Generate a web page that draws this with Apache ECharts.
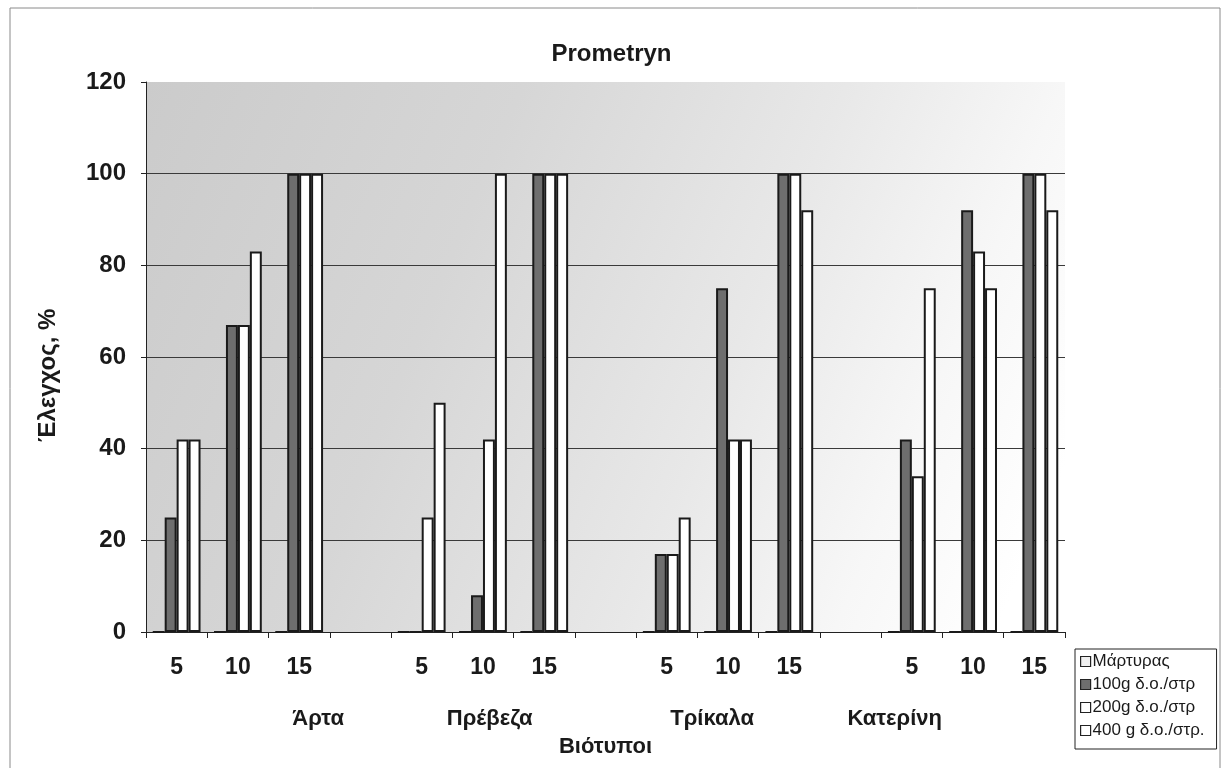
<!DOCTYPE html>
<html>
<head>
<meta charset="utf-8">
<script src="https://cdn.jsdelivr.net/npm/echarts@6/dist/echarts.min.js"></script>
<style>
html,body{margin:0;padding:0;background:#fff;}
#chart{width:1223px;height:768px;}
</style>
</head>
<body>
<div id="chart"></div>
<script>
// ---- data ----
const categories = ['5','10','15','','5','10','15','','5','10','15','','5','10','15'];
const groupNames = ['Άρτα','Πρέβεζα','Τρίκαλα','Κατερίνη'];
const groupPos = [2.31, 5.11, 8.74, 11.72]; // label centres, in category units
const seriesNames = ['Μάρτυρας','100g δ.ο./στρ','200g δ.ο./στρ','400 g δ.ο./στρ.'];
const control  = [0,0,0,null, 0,0,0,null, 0,0,0,null, 0,0,0];
const dose100  = [25,67,100,null, 0,8,100,null, 17,75,100,null, 42,92,100];
const dose200  = [42,67,100,null, 25,42,100,null, 17,42,100,null, 34,83,100];
const dose400  = [42,83,100,null, 50,100,100,null, 25,42,92,null, 75,75,92];
const yTicks = [0,20,40,60,80,100,120];
const yTitle = 'Έλεγχος, %';
const yTitleAt = 56; // axis title centre, in y units

const font = '"Liberation Sans", Arial, sans-serif';
const chart = echarts.init(document.getElementById('chart'));
const barBorder = {borderColor:'#1a1a1a', borderWidth:2};
const fills = ['#efefef','#6e6e6e','#ffffff','#ffffff'];
const dataSets = [control, dose100, dose200, dose400];
const gridColors = yTicks.map(v => v === 120 ? 'rgba(0,0,0,0)' : '#3a3a3a');

chart.setOption({
  animation:false,
  backgroundColor:'#ffffff',
  title:{text:'Prometryn', left:'center', top:37,
    textStyle:{fontFamily:font, fontSize:24, fontWeight:'bold', color:'#1a1a1a'}},
  legend:{
    orient:'vertical', left:1075, top:649,
    data:seriesNames,
    icon:'rect', itemWidth:10, itemHeight:10, itemGap:6,
    backgroundColor:'#ffffff', borderColor:'#222', borderWidth:1,
    padding:[4,12,10,5],
    textStyle:{fontFamily:font, fontSize:17, lineHeight:17, color:'#1a1a1a', padding:[0,0,0,-3]},
    itemStyle:{borderColor:'#222', borderWidth:1.2}
  },
  grid:{left:146, right:158, top:82, bottom:136, show:true, borderWidth:0,
    backgroundColor:{type:'linear', x:0, y:0, x2:1, y2:0.7,
      colorStops:[{offset:0,color:'#cbcbcb'},{offset:0.35,color:'#d6d6d6'},
                  {offset:0.65,color:'#e8e8e8'},{offset:0.85,color:'#f7f7f7'},
                  {offset:1,color:'#ffffff'}]}},
  xAxis:[{
    type:'category', data:categories,
    axisLine:{lineStyle:{color:'#222', width:1}},
    axisTick:{show:true, length:6, lineStyle:{color:'#222'}, interval:0},
    axisLabel:{interval:0, margin:24, fontFamily:font, fontSize:23, fontWeight:'bold', color:'#1a1a1a'},
    name:'Βιότυποι', nameLocation:'middle', nameGap:104,
    nameTextStyle:{fontFamily:font, fontSize:22, fontWeight:'bold', color:'#1a1a1a'}
  },{
    type:'value', min:-0.5, max:14.5, show:false
  }],
  yAxis:{
    type:'value', min:0, max:120, interval:20,
    axisLine:{show:true, onZero:false, lineStyle:{color:'#222'}},
    axisTick:{show:true, length:5, lineStyle:{color:'#222'}},
    axisLabel:{margin:20, fontFamily:font, fontSize:24, fontWeight:'bold', color:'#1a1a1a',
      formatter:v=>yTicks.includes(v)?String(v):''},
    splitLine:{show:true, lineStyle:{color:gridColors, width:1.2}}
  },
  series: seriesNames.map((n,i)=>({
    name:n, type:'bar', data:dataSets[i],
    barGap:'0%', barCategoryGap:'22%',
    itemStyle:Object.assign({color:fills[i]}, barBorder)
  }))
});

const baseY = chart.convertToPixel({yAxisIndex:0}, 0);
const graphics = groupNames.map((g,i)=>({
  type:'text',
  x: chart.convertToPixel({xAxisIndex:1}, groupPos[i]),
  y: baseY + 87,
  style:{text:g, fontFamily:font, fontSize:22, fontWeight:'bold', fill:'#1a1a1a',
    textAlign:'center', textVerticalAlign:'middle'}
}));
graphics.push({
  type:'text', x:48, y:chart.convertToPixel({yAxisIndex:0}, yTitleAt), rotation:Math.PI/2,
  style:{text:yTitle, fontFamily:font, fontSize:24, fontWeight:'bold', fill:'#1a1a1a',
    textAlign:'center', textVerticalAlign:'middle'}
});
graphics.push({type:'rect', shape:{x:10, y:8, width:1210, height:770},
  style:{fill:'none', stroke:'#8a8a8a', lineWidth:1}, silent:true, z:-1});
chart.setOption({graphic:graphics});
</script>
</body>
</html>
